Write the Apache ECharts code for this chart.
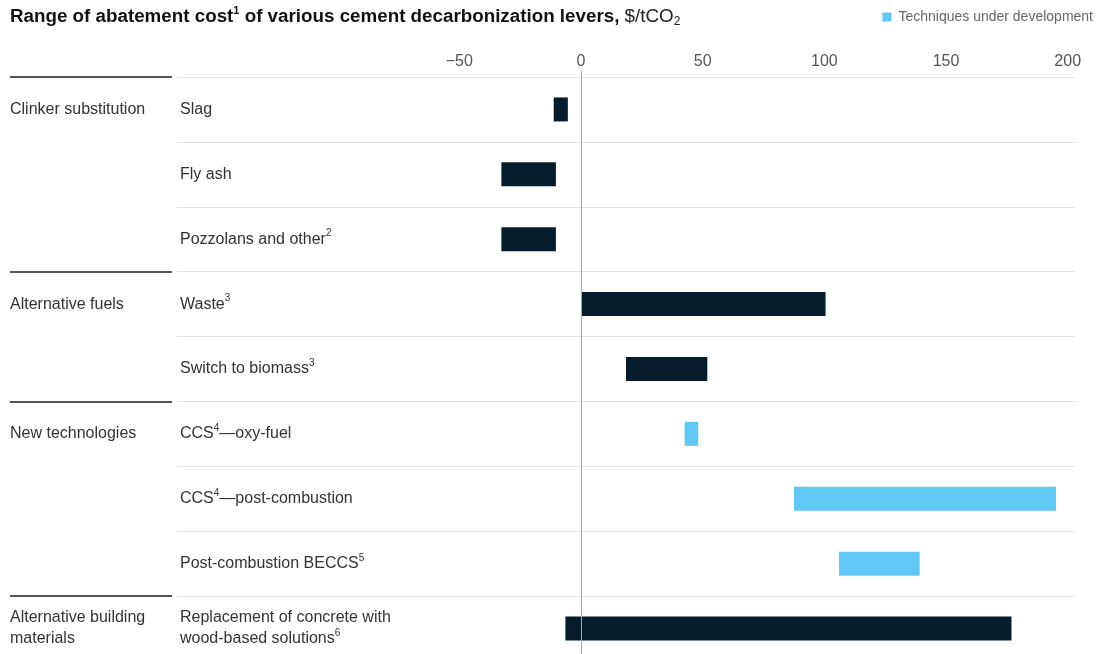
<!DOCTYPE html>
<html>
<head>
<meta charset="utf-8">
<script src="https://cdn.jsdelivr.net/npm/echarts@6/dist/echarts.min.js"></script>
<style>
  html, body { margin: 0; padding: 0; background: #fff; }
  #chart { width: 1101px; height: 654px; }
</style>
</head>
<body>
<div id="chart"></div>
<script>
// ---- data ----
const categories = [
  "Slag",
  "Fly ash",
  "Pozzolans and other²",
  "Waste³",
  "Switch to biomass³",
  "CCS⁴—oxy-fuel",
  "CCS⁴—post-combustion",
  "Post-combustion BECCS⁵",
  "Replacement of concrete with\nwood-based solutions⁶"
];
const groupLabels = [
  "Clinker substitution", "", "",
  "Alternative fuels", "",
  "New technologies", "", "",
  "Alternative building\nmaterials"
];
const lowValues  = [-11.2, -32.7, -32.7, 0, 18.5, 42.6, 87.5, 106, -6.4];
const highValues = [-5.4, -10.3, -10.3, 100.5, 51.9, 48.2, 195.2, 139.2, 176.9];
const underDevelopment = [false, false, false, false, false, true, true, true, false];
const xTickValues = [-50, 0, 50, 100, 150, 200];
const zeroLineValue = [0];

const FONT = "'Liberation Sans', Arial, sans-serif";
const DARK = "#051c2c";
const BLUE = "#63c7f5";
const TEXT = "#333";

const supMap = { "¹": "1", "²": "2", "³": "3", "⁴": "4", "⁵": "5", "⁶": "6" };
function toRich(s) {
  return s.replace(/[¹²³⁴⁵⁶]/g, m => "{sup|" + supMap[m] + "}");
}

const establishedData = [];
const developmentData = [];
categories.forEach((c, i) => {
  const item = [lowValues[i], highValues[i], i];
  (underDevelopment[i] ? developmentData : establishedData).push(item);
});

function renderRange(params, api) {
  const start = api.coord([api.value(0), api.value(2)]);
  const end = api.coord([api.value(1), api.value(2)]);
  const band = api.size([0, 1])[1];
  const h = band * 0.37;
  return {
    type: "rect",
    shape: { x: start[0], y: start[1] - h / 2, width: end[0] - start[0], height: h },
    style: api.style()
  };
}

function renderZeroLine(params, api) {
  const cs = params.coordSys;
  const x = Math.round(api.coord([api.value(0), 0])[0]) + 0.5;
  return {
    type: "line",
    shape: { x1: x, y1: cs.y - 6, x2: x, y2: cs.y + cs.height },
    style: { stroke: "#a8a8a8", lineWidth: 1 }
  };
}

const chart = echarts.init(document.getElementById("chart"), null, { renderer: "canvas" });
chart.setOption({
  animation: false,
  backgroundColor: "#fff",
  textStyle: { fontFamily: FONT },
  title: {
    left: 10, top: 5, padding: 0,
    text: "{b|Range of abatement cost}{sup|1}{b| of various cement decarbonization levers, }{n|$/tCO}{sub|2}",
    textStyle: {
      rich: {
        b: { fontFamily: FONT, fontSize: 18.8, fontWeight: "bold", color: "#111", lineHeight: 23 },
        sup: { fontFamily: FONT, fontSize: 11, fontWeight: "bold", color: "#111", verticalAlign: "top", lineHeight: 13 },
        n: { fontFamily: FONT, fontSize: 18.8, fontWeight: "normal", color: "#222", lineHeight: 23 },
        sub: { fontFamily: FONT, fontSize: 12, fontWeight: "normal", color: "#222", verticalAlign: "bottom", lineHeight: 14 }
      }
    }
  },
  legend: {
    data: ["Techniques under development"],
    right: 8, top: 10, padding: 0,
    icon: "rect", itemWidth: 9, itemHeight: 9, itemGap: 6,
    textStyle: { color: "#666", fontSize: 14, fontFamily: FONT, padding: [0, 0, 0, 2] }
  },
  grid: [
    { left: 10, top: 77, width: 162, height: 584, outerBoundsMode: "none" },
    { left: 177, top: 77, right: 26, height: 584, outerBoundsMode: "none" }
  ],
  xAxis: [
    { gridIndex: 0, type: "value", show: false, min: 0, max: 1 },
    {
      gridIndex: 1, type: "value", position: "top",
      min: -166, max: 203,
      axisLine: { show: false }, axisTick: { show: false }, splitLine: { show: false },
      axisLabel: {
        customValues: xTickValues,
        formatter: v => (v < 0 ? "−" + Math.abs(v) : String(v)),
        color: "#555", fontSize: 16, margin: 7, fontFamily: FONT
      }
    }
  ],
  yAxis: [
    {
      gridIndex: 0, type: "category", inverse: true, data: categories,
      axisLine: { show: false }, axisTick: { show: false },
      axisLabel: {
        inside: true, margin: 0, interval: 0,
        formatter: (v, i) => groupLabels[i],
        color: TEXT, fontSize: 16, lineHeight: 21, fontFamily: FONT
      },
      splitLine: {
        show: true,
        interval: (i) => i < categories.length && groupLabels[i] !== "",
        lineStyle: { color: "#1a1a1a", width: 1.6 }
      }
    },
    {
      gridIndex: 1, type: "category", inverse: true, data: categories,
      axisLine: { show: false }, axisTick: { show: false },
      axisLabel: {
        inside: true, margin: 3, interval: 0,
        formatter: v => toRich(v),
        color: TEXT, fontSize: 16, lineHeight: 21, fontFamily: FONT,
        rich: {
          sup: { fontSize: 10, color: TEXT, verticalAlign: "top", lineHeight: 13, fontFamily: FONT }
        }
      },
      splitLine: { show: true, lineStyle: { color: "#e3e3e3", width: 1 } }
    }
  ],
  series: [
    {
      name: "Established",
      type: "custom",
      xAxisIndex: 1, yAxisIndex: 1,
      encode: { x: [0, 1], y: 2 },
      itemStyle: { color: DARK },
      renderItem: renderRange,
      data: establishedData
    },
    {
      name: "Techniques under development",
      type: "custom",
      xAxisIndex: 1, yAxisIndex: 1,
      encode: { x: [0, 1], y: 2 },
      itemStyle: { color: BLUE },
      renderItem: renderRange,
      data: developmentData
    },
    {
      name: "zero",
      type: "custom",
      xAxisIndex: 1, yAxisIndex: 1,
      z: 5, silent: true,
      encode: { x: 0 },
      renderItem: renderZeroLine,
      data: zeroLineValue.map(v => [v])
    }
  ]
});
</script>
</body>
</html>
